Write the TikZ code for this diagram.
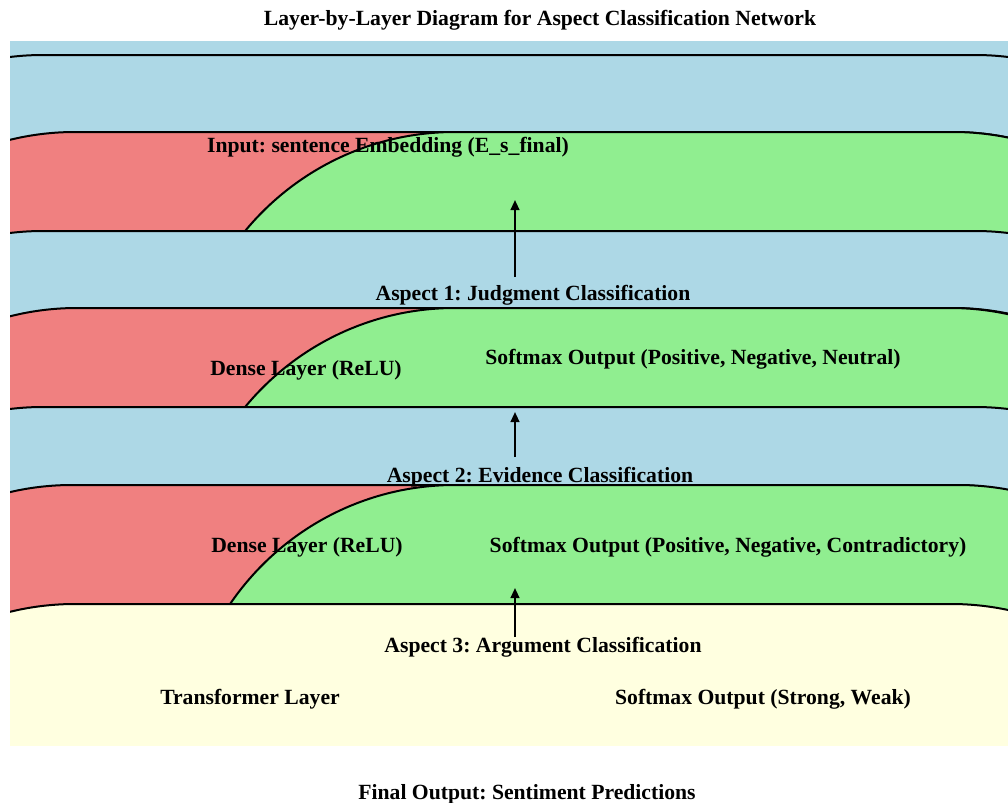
\documentclass[tikz,border=0pt]{standalone}
\usepackage{fontspec}
\setmainfont{Liberation Serif}
\usetikzlibrary{arrows.meta}
\definecolor{lblue}{HTML}{ADD8E6}
\definecolor{lcoral}{HTML}{F08080}
\definecolor{lgreen}{HTML}{90EE90}
\definecolor{lyellow}{HTML}{FFFFE0}
\frenchspacing
% fill, x left, x right, y top, left radius, right radius  (px, y downward)
\newcommand\layerbox[6]{%
  \filldraw[fill=#1, draw=black, line width=1.5pt]
    (#2, #4+500) -- (#2, #4+#5)
    arc[start angle=180, end angle=270, radius=#5]
    -- (#3-#6, #4)
    arc[start angle=270, end angle=360, radius=#6]
    -- (#3, #4+500) -- cycle;}
\tikzset{
  lbl/.style={font=\bfseries\fontsize{16.25}{20}\selectfont, inner sep=0pt, anchor=base, text=black},
  uparrow/.style={draw=black, line width=1.5pt, -{Triangle[width=6.5pt,length=7.5pt]}}
}
\begin{document}
\begin{tikzpicture}[x=0.75pt, y=-0.75pt]
\useasboundingbox (0,0) rectangle (1008,803);
\begin{scope}
\clip (10,41) rectangle (1008,745);
\fill[lblue] (10,41) rectangle (1008,745);
% group 1
\layerbox{lblue}{-229}{1247}{55}{272}{272}
\layerbox{lcoral}{-197}{1225}{132}{272}{272}
\layerbox{lgreen}{183}{1225}{132}{272}{272}
% group 2
\layerbox{lblue}{-229}{1247}{231}{272}{272}
\layerbox{lcoral}{-195}{1225}{308}{272}{272}
\layerbox{lgreen}{183}{1222}{308}{272}{272}
% group 3
\layerbox{lblue}{-229}{1247}{407}{272}{272}
\layerbox{lcoral}{-200}{1225}{485}{272}{272}
\layerbox{lgreen}{183}{1230}{485}{272}{272}
% bottom
\layerbox{lyellow}{-197}{1223}{604}{272}{272}
\end{scope}

\node[lbl] (title) at (540,26) {Layer-by-Layer Diagram for Aspect Classification Network};
\node[lbl] (input) at (388,152) {Input: sentence Embedding (E\_s\_final)};
\node[lbl] (asp1) at (533,300) {Aspect 1: Judgment Classification};
\node[lbl] (dense1) at (306,375) {Dense Layer (ReLU)};
\node[lbl] (soft1) at (693,364) {Softmax Output (Positive, Negative, Neutral)};
\node[lbl] (asp2) at (540,482) {Aspect 2: Evidence Classification};
\node[lbl] (dense2) at (307,552) {Dense Layer (ReLU)};
\node[lbl] (soft2) at (728,552) {Softmax Output (Positive, Negative, Contradictory)};
\node[lbl] (asp3) at (543,652) {Aspect 3: Argument Classification};
\node[lbl] (trans) at (250,704) {Transformer Layer};
\node[lbl] (soft3) at (763,704) {Softmax Output (Strong, Weak)};
\node[lbl] (final) at (527,799) {Final Output: Sentiment Predictions};

\coordinate (a1s) at (515,277);
\coordinate (a1e) at (515,200);
\coordinate (a2s) at (515,457);
\coordinate (a2e) at (515,412);
\coordinate (a3s) at (515,637);
\coordinate (a3e) at (515,588);
\draw[uparrow] (a1s) -- (a1e);
\draw[uparrow] (a2s) -- (a2e);
\draw[uparrow] (a3s) -- (a3e);
\end{tikzpicture}
\end{document}
